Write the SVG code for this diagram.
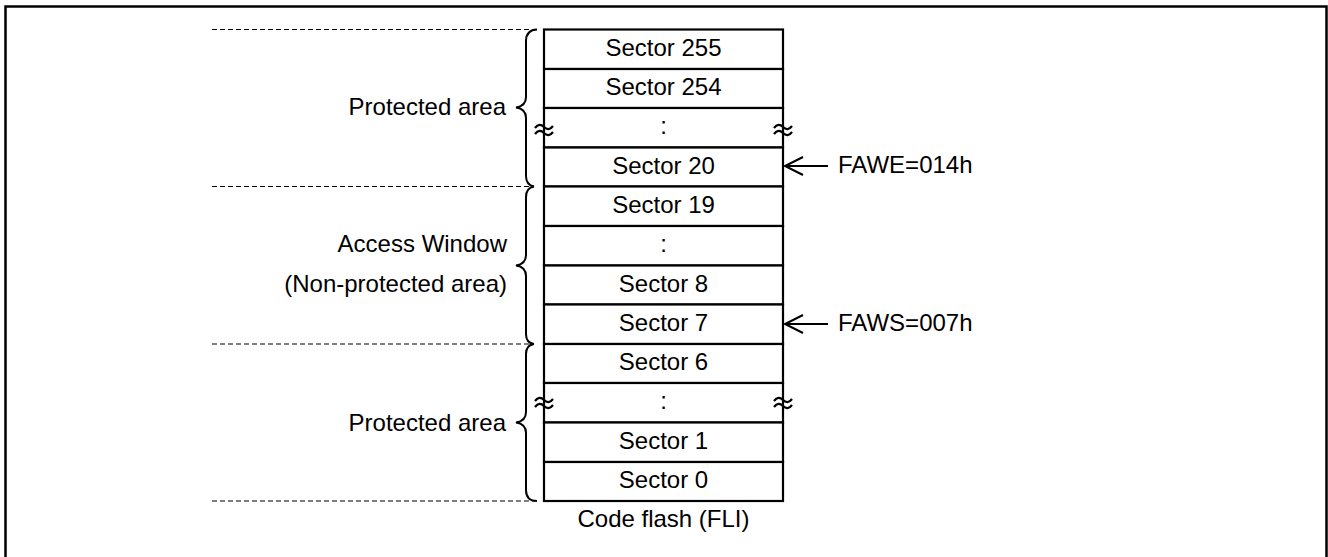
<svg xmlns="http://www.w3.org/2000/svg" width="1328" height="557" viewBox="0 0 1328 557">
<style>
  text { font-family: "Liberation Sans", Arial, sans-serif; font-size: 24px; fill: #000; }
  .c { text-anchor: middle; }
  .r { text-anchor: end; }
  .cell { fill: #fff; stroke: #000; stroke-width: 2.2; }
  .brace { fill: none; stroke: #000; stroke-width: 2; }
  .dash { stroke: #000; stroke-width: 1.2; stroke-dasharray: 5 3; fill: none; }
  .arr { stroke: #000; stroke-width: 2; fill: none; }
  .brk { stroke: #000; stroke-width: 2.2; fill: none; }
</style>
<rect x="5.5" y="6.5" width="1321" height="560" fill="#fff" stroke="#000" stroke-width="2.5"/>

<g id="connectors">
  <path class="dash" d="M212,29.5 H535"/>
  <path class="dash" d="M212,186.5 H531"/>
  <path class="dash" d="M212,344 H531"/>
  <path class="dash" d="M212,501 H535"/>
  <path class="arr" d="M828,166 H785 M803,157 L785,166 L803,175"/>
  <path class="arr" d="M828,324 H785 M803,315 L785,324 L803,333"/>
</g>

<g id="flash">
  <g id="s255"><rect class="cell" x="544" y="29.5" width="239" height="39.5"/><text class="c" x="663.5" y="55.5">Sector 255</text></g>
  <g id="s254"><rect class="cell" x="544" y="69" width="239" height="39"/><text class="c" x="663.5" y="95">Sector 254</text></g>
  <g id="s_dots1"><rect class="cell" x="544" y="108" width="239" height="39.5"/><text class="c" x="663.5" y="134">:</text></g>
  <g id="s20"><rect class="cell" x="544" y="147.5" width="239" height="39"/><text class="c" x="663.5" y="173.5">Sector 20</text></g>
  <g id="s19"><rect class="cell" x="544" y="186.5" width="239" height="39.5"/><text class="c" x="663.5" y="212.5">Sector 19</text></g>
  <g id="s_dots2"><rect class="cell" x="544" y="226" width="239" height="39.5"/><text class="c" x="663.5" y="252">:</text></g>
  <g id="s8"><rect class="cell" x="544" y="265.5" width="239" height="39"/><text class="c" x="663.5" y="291.5">Sector 8</text></g>
  <g id="s7"><rect class="cell" x="544" y="304.5" width="239" height="39.5"/><text class="c" x="663.5" y="330.5">Sector 7</text></g>
  <g id="s6"><rect class="cell" x="544" y="344" width="239" height="39"/><text class="c" x="663.5" y="370">Sector 6</text></g>
  <g id="s_dots3"><rect class="cell" x="544" y="383" width="239" height="39.5"/><text class="c" x="663.5" y="409">:</text></g>
  <g id="s1"><rect class="cell" x="544" y="422.5" width="239" height="39.5"/><text class="c" x="663.5" y="448.5">Sector 1</text></g>
  <g id="s0"><rect class="cell" x="544" y="462" width="239" height="39"/><text class="c" x="663.5" y="488">Sector 0</text></g>
  <text id="flash-label" class="c" x="663.5" y="527">Code flash (FLI)</text>
</g>

<g id="breaks">
  <path class="brk" d="M535,128 C538,124 541,124 544,127 S550,130 553,126 M535,134 C538,130 541,130 544,133 S550,136 553,132"/>
  <path class="brk" d="M774,128 C777,124 780,124 783,127 S789,130 792,126 M774,134 C777,130 780,130 783,133 S789,136 792,132"/>
  <path class="brk" d="M535,401 C538,397 541,397 544,400 S550,403 553,399 M535,407 C538,403 541,403 544,406 S550,409 553,405"/>
  <path class="brk" d="M774,401 C777,397 780,397 783,400 S789,403 792,399 M774,407 C777,403 780,403 783,406 S789,409 792,405"/>
</g>

<g id="top-protected">
  <path class="brace" d="M537,29.5 Q526,30 526,41 V97 Q526,106 516,107.5 Q526,109 526,118 V176 Q526,185 534,186.5"/>
  <text class="r" x="506" y="115">Protected area</text>
</g>
<g id="access-window">
  <path class="brace" d="M534,186.5 Q526,188 526,197 V255 Q526,264 516,265.5 Q526,267 526,276 V334 Q526,343 534,344"/>
  <text class="r" x="507" y="252">Access Window</text>
  <text class="r" x="507" y="292">(Non-protected area)</text>
</g>
<g id="bottom-protected">
  <path class="brace" d="M534,344 Q526,345 526,354 V412 Q526,421 516,422.5 Q526,424 526,433 V490 Q526,501 537,501"/>
  <text class="r" x="506" y="431">Protected area</text>
</g>
<g id="fawe"><text x="838" y="173">FAWE=014h</text></g>
<g id="faws"><text x="838" y="331">FAWS=007h</text></g>
</svg>
